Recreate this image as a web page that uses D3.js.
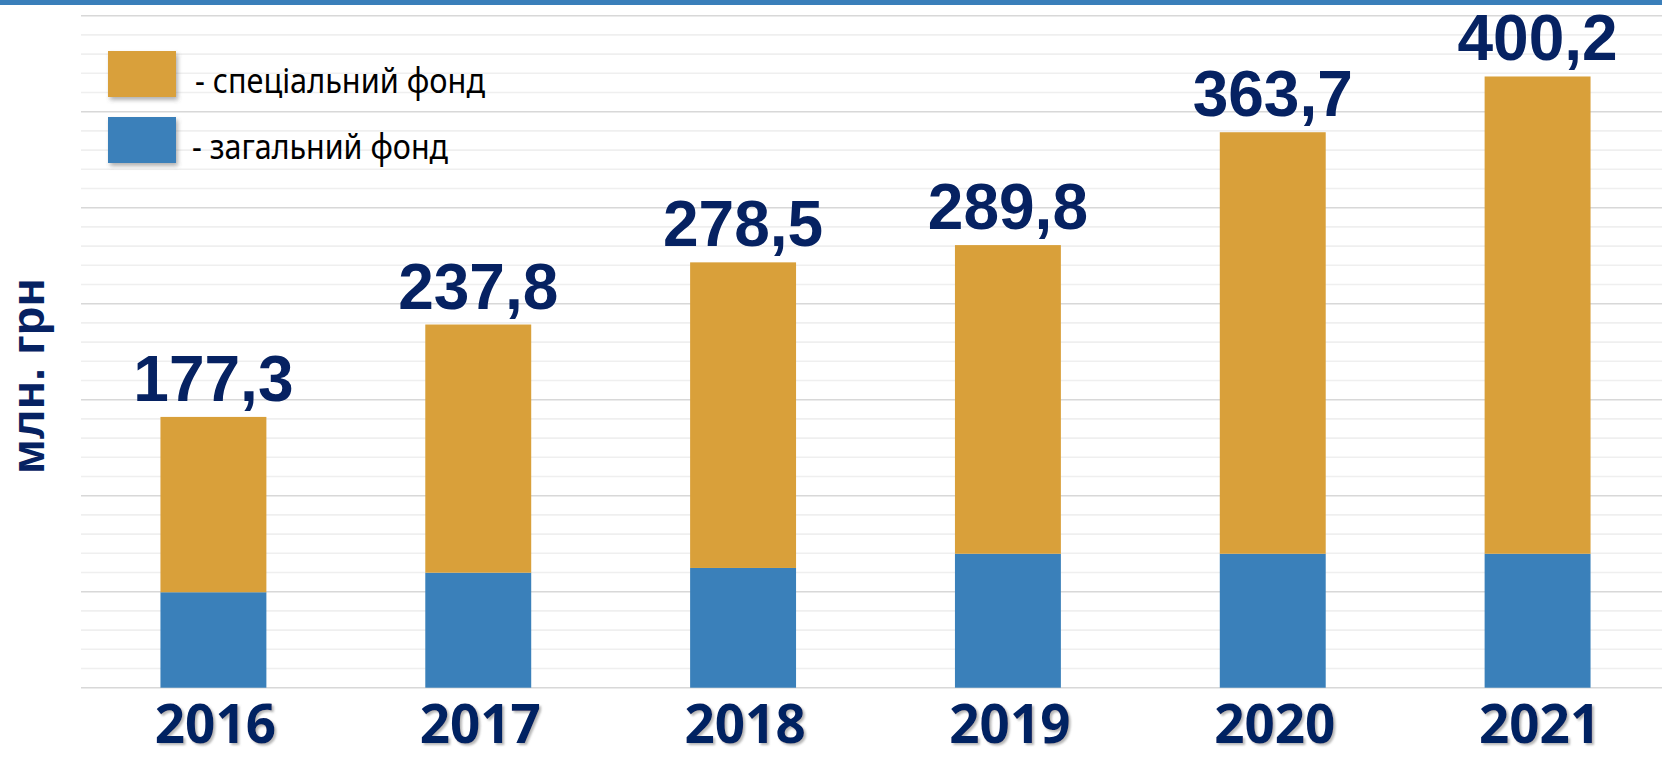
<!DOCTYPE html>
<html>
<head>
<meta charset="utf-8">
<script src="https://cdn.jsdelivr.net/npm/d3@7"></script>
<style>
  html, body { margin: 0; padding: 0; background: #ffffff; }
  svg { display: block; }
</style>
</head>
<body>
<svg id="chart" width="1662" height="759"></svg>
<script>
// Budget by year, млн. грн
const years = ["2016", "2017", "2018", "2019", "2020", "2021"];
const generalFund = [62.5, 75.3, 78.4, 87.7, 87.7, 87.7];     // загальний фонд
const specialFund = [114.8, 162.5, 200.1, 202.1, 276.0, 312.5]; // спеціальний фонд
const seriesKeys = ["general", "special"];
const seriesLabels = { general: "- загальний фонд", special: "- спеціальний фонд" };
const yAxisTitle = "млн. грн";

const W = 1662, H = 759;
const colors = { general: "#3a80ba", special: "#d9a03a" };
const navy = "#062262";

const rows = years.map((yr, i) => ({ year: yr, general: generalFund[i], special: specialFund[i] }));
const stacked = d3.stack().keys(seriesKeys)(rows);

const svg = d3.select("#chart");

// Filters: soft shadow for year labels and legend swatches
const defs = svg.append("defs");
const sh = defs.append("filter").attr("id", "txtShadow")
  .attr("x", "-10%").attr("y", "-10%").attr("width", "130%").attr("height", "140%");
sh.append("feDropShadow").attr("dx", 2).attr("dy", 2).attr("stdDeviation", 1.2)
  .attr("flood-color", "#7a7a7a").attr("flood-opacity", 0.55);
const sw = defs.append("filter").attr("id", "boxShadow")
  .attr("x", "-20%").attr("y", "-20%").attr("width", "150%").attr("height", "160%");
sw.append("feDropShadow").attr("dx", 2).attr("dy", 3).attr("stdDeviation", 2)
  .attr("flood-color", "#555").attr("flood-opacity", 0.45);

// Scales
const yMax = 440;
const y = d3.scaleLinear().domain([0, yMax]).range([687.7, 15.7]);
const x = d3.scaleBand().domain(years).range([81, 1670]).paddingInner(0.6).paddingOuter(0.3);

// Blue band along the top edge
svg.append("rect").attr("x", 0).attr("y", 0).attr("width", W).attr("height", 5).attr("fill", "#3a7fba");

// Horizontal gridlines: a darker line every fifth step
const gridSteps = 35;
const gridVals = d3.range(0, gridSteps + 1).map(i => i * yMax / gridSteps);
svg.append("g").selectAll("line").data(gridVals).join("line")
  .attr("x1", 81).attr("x2", W)
  .attr("y1", d => y(d)).attr("y2", d => y(d))
  .attr("stroke", (d, i) => i % 5 === 0 ? "#d8d8d8" : "#efefef")
  .attr("stroke-width", 1.6);

// Stacked bars
svg.append("g").selectAll("g").data(stacked).join("g")
  .attr("fill", s => colors[s.key])
  .selectAll("rect").data(s => s).join("rect")
  .attr("x", d => x(d.data.year))
  .attr("width", x.bandwidth())
  .attr("y", d => y(d[1]))
  .attr("height", d => y(d[0]) - y(d[1]));

// Totals above bars
const fmt = d3.formatLocale({ decimal: ",", thousands: " ", grouping: [3], currency: ["", ""] }).format(".1f");
const topLayer = stacked[stacked.length - 1];
svg.append("g").selectAll("text").data(topLayer).join("text")
  .attr("x", d => x(d.data.year) + x.bandwidth() / 2)
  .attr("y", d => y(d[1]) - 16)
  .attr("text-anchor", "middle")
  .attr("font-family", "'Liberation Sans', Arial, sans-serif")
  .attr("font-weight", "bold")
  .attr("font-size", 64)
  .attr("fill", navy)
  .text(d => fmt(d[1]));

// Year labels
svg.append("g").selectAll("text").data(years).join("text")
  .attr("x", d => x(d) + x.bandwidth() / 2 + 2)
  .attr("y", 743)
  .attr("text-anchor", "middle")
  .attr("font-family", "'Open Sans', sans-serif")
  .attr("font-weight", 700)
  .attr("font-size", 53)
  .attr("fill", navy)
  .attr("filter", "url(#txtShadow)")
  .text(d => d);

// Y axis title
svg.append("text")
  .attr("transform", "translate(44,376) rotate(-90)")
  .attr("text-anchor", "middle")
  .attr("font-family", "'Liberation Sans', Arial, sans-serif")
  .attr("font-weight", "bold")
  .attr("font-size", 47)
  .attr("fill", navy)
  .text(yAxisTitle);

// Legend
const legendItems = [
  { key: "special", y: 51, textLen: 290 },
  { key: "general", y: 117, textLen: 256 }
];
const lg = svg.append("g");
lg.selectAll("rect").data(legendItems).join("rect")
  .attr("x", 108).attr("y", d => d.y).attr("width", 68).attr("height", 46)
  .attr("fill", d => colors[d.key])
  .attr("filter", "url(#boxShadow)");
lg.selectAll("text").data(legendItems).join("text")
  .attr("x", d => d.key === "special" ? 195 : 192)
  .attr("y", d => d.y + 42)
  .attr("font-family", "'Noto Sans', 'DejaVu Sans', sans-serif")
  .attr("font-size", 35)
  .attr("fill", "#000")
  .attr("textLength", d => d.textLen)
  .attr("lengthAdjust", "spacingAndGlyphs")
  .text(d => seriesLabels[d.key]);
</script>
</body>
</html>
